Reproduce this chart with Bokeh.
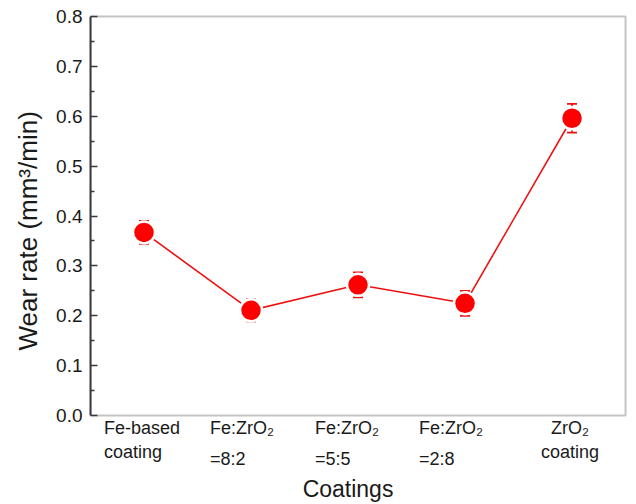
from bokeh.plotting import figure
from bokeh.models import ColumnDataSource, FixedTicker, Whisker, TeeHead, Range1d, BoxAnnotation, Title
from bokeh.core.properties import value
from bokeh.embed import file_html
from bokeh.resources import INLINE

categories = ["Fe-based\ncoating", "Fe:ZrO\u2082\n=8:2", "Fe:ZrO\u2082\n=5:5", "Fe:ZrO\u2082\n=2:8", "ZrO\u2082\ncoating"]
x_pos = [1, 2, 3, 4, 5]
wear_rate = [0.367, 0.211, 0.262, 0.225, 0.596]
wear_err = [0.023, 0.022, 0.025, 0.025, 0.029]
y_ticks = [0.0, 0.1, 0.2, 0.3, 0.4, 0.5, 0.6, 0.7, 0.8]
x_title = "Coatings"
y_title = "Wear rate (mm\u00b3/min)"

src = ColumnDataSource(dict(
    x=x_pos, y=wear_rate,
    lo=[v - e for v, e in zip(wear_rate, wear_err)],
    hi=[v + e for v, e in zip(wear_rate, wear_err)],
))

FONT = "Liberation Sans"
AX = "#3a3a3a"
TXT = "#1a1a1a"
RED = "#ee1111"

# plotted box limits
Y0, Y1 = 0.0, 0.8
X0, X1 = 0.5, 5.5
# the visible frame is a little larger (below: room for category texts drawn as glyphs)
p = figure(width=632, height=504, output_backend="svg", toolbar_location=None,
           x_range=Range1d(X0, 5.537), y_range=Range1d(-0.1764, 0.808),
           min_border_left=88, min_border_right=3, min_border_top=12, min_border_bottom=1)
p.grid.visible = False
p.outline_line_color = None
p.background_fill_color = "white"
p.border_fill_color = "white"
p.xaxis.visible = False

# plot box
p.add_layout(BoxAnnotation(left=X0, right=X1, bottom=Y0, top=Y1, fill_alpha=0,
                           line_color=AX, line_width=2, level="overlay"))

p.line("x", "y", source=src, line_color=RED, line_width=1.6)
p.scatter("x", "y", source=src, size=22, fill_color="#ff0000", line_color="white", line_width=2.5)
w = Whisker(base="x", upper="hi", lower="lo", source=src,
            line_color=RED, line_width=1.6,
            upper_head=TeeHead(size=10, line_color=RED, line_width=1.8),
            lower_head=TeeHead(size=10, line_color=RED, line_width=1.8))
p.add_layout(w)

# y axis
p.yaxis.bounds = (Y0, Y1)
p.yaxis.ticker = FixedTicker(ticks=y_ticks, minor_ticks=[0.05 + 0.1 * i for i in range(8)])
p.yaxis.major_label_overrides = {t: f"{t:.1f}" for t in y_ticks}
p.yaxis.major_tick_in = 7
p.yaxis.major_tick_out = 0
p.yaxis.minor_tick_in = 4
p.yaxis.minor_tick_out = 0
p.yaxis.axis_line_color = AX
p.yaxis.axis_line_width = 2
p.yaxis.major_tick_line_color = AX
p.yaxis.minor_tick_line_color = AX
p.yaxis.major_tick_line_width = 1.5
p.yaxis.minor_tick_line_width = 1.5
p.yaxis.major_label_text_font = FONT
p.yaxis.major_label_text_font_size = "19px"
p.yaxis.major_label_text_color = TXT
p.yaxis.major_label_standoff = 8

# y axis title (as a side title so it can be placed along the 0-0.8 box)
p.add_layout(Title(text=y_title, align="left", offset=153, standoff=21,
                   text_font=FONT, text_font_size="26px", text_font_style="normal",
                   text_color=TXT), "left")

# category labels (below the box)
lab_y = -0.005
common = dict(text_font=value(FONT), text_font_size="18px", text_color=TXT, text_baseline="top")
p.text(x=x_pos[:1], y=[lab_y], text=categories[:1], text_align="left",
       x_offset=-40, text_line_height=1.2, **common)
p.text(x=x_pos[1:4], y=[lab_y] * 3, text=categories[1:4], text_align="left",
       x_offset=[-41, -43, -46], text_line_height=1.55, **common)
p.text(x=x_pos[4:], y=[lab_y], text=categories[4:], text_align="center",
       x_offset=-2, text_line_height=1.2, **common)

# x axis title
p.text(x=[(X0 + X1) / 2], y=[-0.148], text=[x_title], text_align="center", text_baseline="middle",
       x_offset=-10, text_font=value(FONT), text_font_size="23px", text_color=TXT)

open("out.html", "w").write(file_html(p, INLINE))
